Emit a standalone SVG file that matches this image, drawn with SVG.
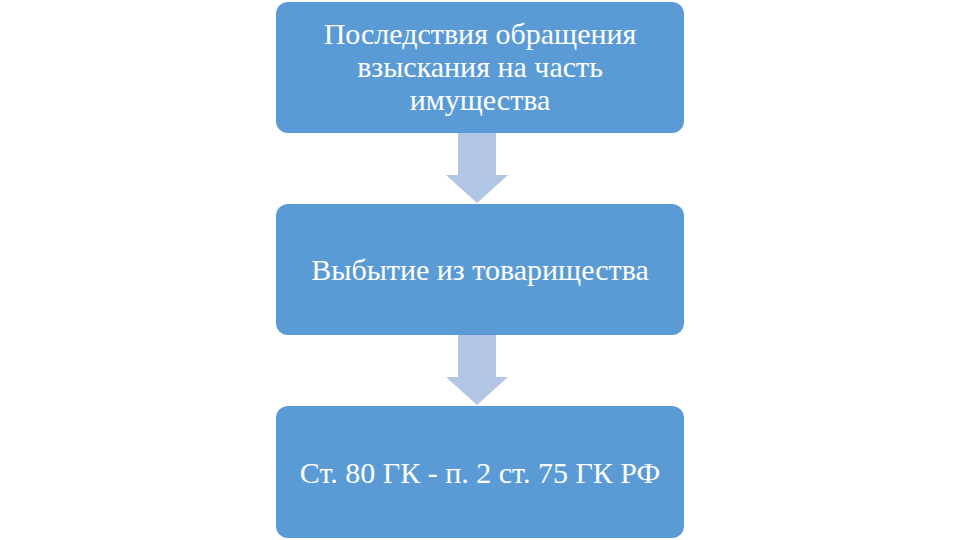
<svg xmlns="http://www.w3.org/2000/svg" width="960" height="540" viewBox="0 0 960 540">
<style>
.box{fill:#5B9BD5;}
.arr{fill:#B1C6E4;}
text{font-family:"Liberation Serif","Times New Roman",serif;fill:#FFFFFF;text-anchor:middle;font-size:30px;}
</style>
<rect width="960" height="540" fill="#FFFFFF"/>
<g id="connectors">
<polygon class="arr" points="458,125 496,125 496,175 508,175 477,203 446,175 458,175"/>
<polygon class="arr" points="458,327 496,327 496,377 508,377 477,405 446,377 458,377"/>
</g>
<g id="node1">
<rect class="box" x="276" y="2" width="408" height="131" rx="12"/>
<text x="480" y="44">Последствия обращения</text>
<text x="480" y="77">взыскания на часть</text>
<text x="480" y="110">имущества</text>
</g>
<g id="node2">
<rect class="box" x="276" y="204" width="408" height="131" rx="12"/>
<text x="480" y="280">Выбытие из товарищества</text>
</g>
<g id="node3">
<rect class="box" x="276" y="406" width="408" height="132" rx="12"/>
<text x="480" y="483">Ст. 80 ГК - п. 2 ст. 75 ГК РФ</text>
</g>
</svg>
